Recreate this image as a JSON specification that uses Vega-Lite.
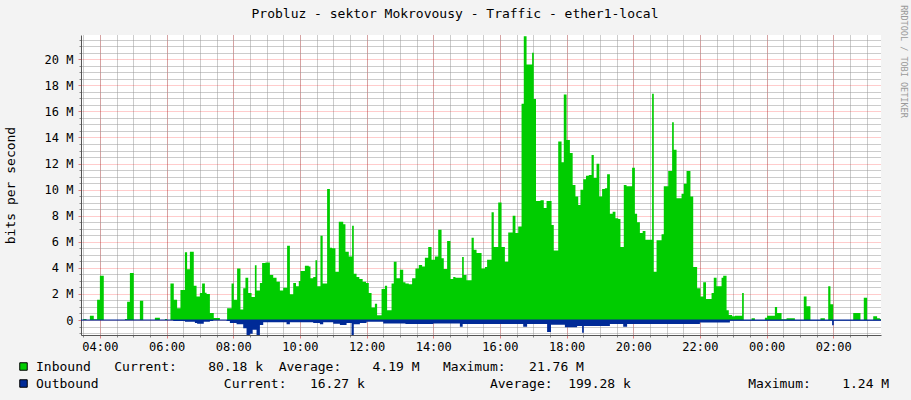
{
  "$schema": "https://vega.github.io/schema/vega-lite/v6.json",
  "width": 800,
  "height": 300,
  "autosize": "none",
  "padding": {"left": 81, "top": 35, "right": 30, "bottom": 65},
  "background": "#F3F3F3",
  "config": {
    "font": "DejaVu Sans Mono",
    "view": {"fill": "#FFFFFF", "stroke": null},
    "axis": {"labelFont": "DejaVu Sans Mono", "titleFont": "DejaVu Sans Mono", "labelColor": "#000000", "titleColor": "#000000", "titleFontWeight": "normal"}
  },
  "title": {
    "text": "Probluz - sektor Mokrovousy - Traffic - ether1-local",
    "font": "DejaVu Sans Mono",
    "fontSize": 13,
    "fontWeight": "normal",
    "color": "#000000",
    "anchor": "middle",
    "dx": -26,
    "dy": 16,
    "offset": 0
  },
  "datasets": {
    "inbound": [
      {"t": "2024-01-01T03:20", "mbps": 0},
      {"t": "2024-01-01T03:30", "mbps": 0.08},
      {"t": "2024-01-01T03:36", "mbps": 0},
      {"t": "2024-01-01T03:42", "mbps": 0.33},
      {"t": "2024-01-01T03:49", "mbps": 0.05},
      {"t": "2024-01-01T03:55", "mbps": 1.56},
      {"t": "2024-01-01T04:00", "mbps": 3.4},
      {"t": "2024-01-01T04:07", "mbps": 0},
      {"t": "2024-01-01T04:45", "mbps": 0.08},
      {"t": "2024-01-01T04:49", "mbps": 1.4},
      {"t": "2024-01-01T04:54", "mbps": 3.6},
      {"t": "2024-01-01T05:01", "mbps": 0.02},
      {"t": "2024-01-01T05:12", "mbps": 1.48},
      {"t": "2024-01-01T05:18", "mbps": 0},
      {"t": "2024-01-01T05:39", "mbps": 0.18},
      {"t": "2024-01-01T05:48", "mbps": 0},
      {"t": "2024-01-01T05:57", "mbps": 0.08},
      {"t": "2024-01-01T06:01", "mbps": 0},
      {"t": "2024-01-01T06:07", "mbps": 2.8},
      {"t": "2024-01-01T06:13", "mbps": 1.56},
      {"t": "2024-01-01T06:19", "mbps": 0.9},
      {"t": "2024-01-01T06:25", "mbps": 2.3},
      {"t": "2024-01-01T06:33", "mbps": 5.2},
      {"t": "2024-01-01T06:37", "mbps": 3.9},
      {"t": "2024-01-01T06:42", "mbps": 5.24},
      {"t": "2024-01-01T06:49", "mbps": 2.63},
      {"t": "2024-01-01T06:54", "mbps": 1.8},
      {"t": "2024-01-01T07:00", "mbps": 2.07},
      {"t": "2024-01-01T07:04", "mbps": 2.8},
      {"t": "2024-01-01T07:09", "mbps": 2.1},
      {"t": "2024-01-01T07:12", "mbps": 2.0},
      {"t": "2024-01-01T07:18", "mbps": 0.54},
      {"t": "2024-01-01T07:25", "mbps": 0.15},
      {"t": "2024-01-01T07:36", "mbps": 0},
      {"t": "2024-01-01T07:49", "mbps": 0.9},
      {"t": "2024-01-01T07:57", "mbps": 2.8},
      {"t": "2024-01-01T08:01", "mbps": 1.56},
      {"t": "2024-01-01T08:07", "mbps": 3.96},
      {"t": "2024-01-01T08:13", "mbps": 0.8},
      {"t": "2024-01-01T08:18", "mbps": 2.43},
      {"t": "2024-01-01T08:22", "mbps": 3.25},
      {"t": "2024-01-01T08:27", "mbps": 2.07},
      {"t": "2024-01-01T08:33", "mbps": 1.76},
      {"t": "2024-01-01T08:39", "mbps": 4.2},
      {"t": "2024-01-01T08:42", "mbps": 2.27},
      {"t": "2024-01-01T08:48", "mbps": 2.84},
      {"t": "2024-01-01T08:52", "mbps": 4.37},
      {"t": "2024-01-01T08:58", "mbps": 4.42},
      {"t": "2024-01-01T09:06", "mbps": 3.45},
      {"t": "2024-01-01T09:12", "mbps": 3.25},
      {"t": "2024-01-01T09:18", "mbps": 2.94},
      {"t": "2024-01-01T09:24", "mbps": 2.27},
      {"t": "2024-01-01T09:30", "mbps": 2.48},
      {"t": "2024-01-01T09:37", "mbps": 5.7},
      {"t": "2024-01-01T09:42", "mbps": 1.97},
      {"t": "2024-01-01T09:48", "mbps": 2.84},
      {"t": "2024-01-01T09:53", "mbps": 2.58},
      {"t": "2024-01-01T09:58", "mbps": 3.0},
      {"t": "2024-01-01T10:01", "mbps": 3.76},
      {"t": "2024-01-01T10:09", "mbps": 4.17},
      {"t": "2024-01-01T10:16", "mbps": 4.1},
      {"t": "2024-01-01T10:19", "mbps": 3.2},
      {"t": "2024-01-01T10:24", "mbps": 3.3},
      {"t": "2024-01-01T10:28", "mbps": 4.58},
      {"t": "2024-01-01T10:31", "mbps": 2.58},
      {"t": "2024-01-01T10:37", "mbps": 6.47},
      {"t": "2024-01-01T10:41", "mbps": 2.8},
      {"t": "2024-01-01T10:49", "mbps": 10.05},
      {"t": "2024-01-01T10:54", "mbps": 5.55},
      {"t": "2024-01-01T10:58", "mbps": 5.5},
      {"t": "2024-01-01T11:04", "mbps": 3.7},
      {"t": "2024-01-01T11:10", "mbps": 7.54},
      {"t": "2024-01-01T11:18", "mbps": 7.34},
      {"t": "2024-01-01T11:22", "mbps": 5.24},
      {"t": "2024-01-01T11:28", "mbps": 4.88},
      {"t": "2024-01-01T11:34", "mbps": 7.23},
      {"t": "2024-01-01T11:37", "mbps": 3.55},
      {"t": "2024-01-01T11:42", "mbps": 3.3},
      {"t": "2024-01-01T11:47", "mbps": 3.14},
      {"t": "2024-01-01T11:53", "mbps": 2.94},
      {"t": "2024-01-01T11:59", "mbps": 2.84},
      {"t": "2024-01-01T12:04", "mbps": 2.07},
      {"t": "2024-01-01T12:09", "mbps": 0.95},
      {"t": "2024-01-01T12:15", "mbps": 1.25},
      {"t": "2024-01-01T12:19", "mbps": 0.36},
      {"t": "2024-01-01T12:27", "mbps": 2.38},
      {"t": "2024-01-01T12:33", "mbps": 2.63},
      {"t": "2024-01-01T12:37", "mbps": 0.74},
      {"t": "2024-01-01T12:45", "mbps": 2.8},
      {"t": "2024-01-01T12:49", "mbps": 4.47},
      {"t": "2024-01-01T12:54", "mbps": 3.2},
      {"t": "2024-01-01T13:00", "mbps": 3.86},
      {"t": "2024-01-01T13:06", "mbps": 2.9},
      {"t": "2024-01-01T13:10", "mbps": 2.8},
      {"t": "2024-01-01T13:16", "mbps": 2.74},
      {"t": "2024-01-01T13:22", "mbps": 3.2},
      {"t": "2024-01-01T13:28", "mbps": 3.96},
      {"t": "2024-01-01T13:34", "mbps": 4.22},
      {"t": "2024-01-01T13:40", "mbps": 4.1},
      {"t": "2024-01-01T13:45", "mbps": 4.78},
      {"t": "2024-01-01T13:51", "mbps": 5.6},
      {"t": "2024-01-01T13:57", "mbps": 4.63},
      {"t": "2024-01-01T14:03", "mbps": 4.88},
      {"t": "2024-01-01T14:09", "mbps": 6.93},
      {"t": "2024-01-01T14:15", "mbps": 4.73},
      {"t": "2024-01-01T14:19", "mbps": 3.91},
      {"t": "2024-01-01T14:25", "mbps": 6.06},
      {"t": "2024-01-01T14:31", "mbps": 3.14},
      {"t": "2024-01-01T14:36", "mbps": 3.3},
      {"t": "2024-01-01T14:40", "mbps": 3.25},
      {"t": "2024-01-01T14:52", "mbps": 4.83},
      {"t": "2024-01-01T14:55", "mbps": 3.45},
      {"t": "2024-01-01T15:00", "mbps": 3.04},
      {"t": "2024-01-01T15:09", "mbps": 6.31},
      {"t": "2024-01-01T15:13", "mbps": 5.39},
      {"t": "2024-01-01T15:18", "mbps": 5.14},
      {"t": "2024-01-01T15:27", "mbps": 3.96},
      {"t": "2024-01-01T15:33", "mbps": 4.06},
      {"t": "2024-01-01T15:37", "mbps": 4.63},
      {"t": "2024-01-01T15:45", "mbps": 8.26},
      {"t": "2024-01-01T15:49", "mbps": 5.6},
      {"t": "2024-01-01T15:57", "mbps": 9.02},
      {"t": "2024-01-01T16:03", "mbps": 5.6},
      {"t": "2024-01-01T16:09", "mbps": 4.47},
      {"t": "2024-01-01T16:15", "mbps": 6.72},
      {"t": "2024-01-01T16:23", "mbps": 8.0},
      {"t": "2024-01-01T16:28", "mbps": 6.67},
      {"t": "2024-01-01T16:33", "mbps": 7.18},
      {"t": "2024-01-01T16:39", "mbps": 16.59},
      {"t": "2024-01-01T16:43", "mbps": 21.76},
      {"t": "2024-01-01T16:48", "mbps": 19.6},
      {"t": "2024-01-01T16:58", "mbps": 20.5},
      {"t": "2024-01-01T17:01", "mbps": 16.95},
      {"t": "2024-01-01T17:05", "mbps": 9.13},
      {"t": "2024-01-01T17:13", "mbps": 9.18},
      {"t": "2024-01-01T17:19", "mbps": 8.6},
      {"t": "2024-01-01T17:24", "mbps": 9.13},
      {"t": "2024-01-01T17:33", "mbps": 7.29},
      {"t": "2024-01-01T17:37", "mbps": 5.34},
      {"t": "2024-01-01T17:45", "mbps": 13.7},
      {"t": "2024-01-01T17:51", "mbps": 12.1},
      {"t": "2024-01-01T17:55", "mbps": 17.3},
      {"t": "2024-01-01T18:00", "mbps": 13.8},
      {"t": "2024-01-01T18:06", "mbps": 12.8},
      {"t": "2024-01-01T18:11", "mbps": 10.35},
      {"t": "2024-01-01T18:16", "mbps": 9.48},
      {"t": "2024-01-01T18:21", "mbps": 8.82},
      {"t": "2024-01-01T18:25", "mbps": 10.0},
      {"t": "2024-01-01T18:30", "mbps": 10.8},
      {"t": "2024-01-01T18:35", "mbps": 11.07},
      {"t": "2024-01-01T18:40", "mbps": 11.12},
      {"t": "2024-01-01T18:45", "mbps": 12.65},
      {"t": "2024-01-01T18:49", "mbps": 10.9},
      {"t": "2024-01-01T18:54", "mbps": 11.99},
      {"t": "2024-01-01T18:59", "mbps": 9.48},
      {"t": "2024-01-01T19:04", "mbps": 10.05},
      {"t": "2024-01-01T19:09", "mbps": 10.1},
      {"t": "2024-01-01T19:13", "mbps": 11.17},
      {"t": "2024-01-01T19:18", "mbps": 8.15},
      {"t": "2024-01-01T19:23", "mbps": 8.3},
      {"t": "2024-01-01T19:28", "mbps": 7.8},
      {"t": "2024-01-01T19:33", "mbps": 7.75},
      {"t": "2024-01-01T19:37", "mbps": 5.6},
      {"t": "2024-01-01T19:43", "mbps": 10.35},
      {"t": "2024-01-01T19:48", "mbps": 10.25},
      {"t": "2024-01-01T19:58", "mbps": 11.68},
      {"t": "2024-01-01T20:03", "mbps": 8.15},
      {"t": "2024-01-01T20:07", "mbps": 7.49},
      {"t": "2024-01-01T20:12", "mbps": 6.67},
      {"t": "2024-01-01T20:17", "mbps": 6.83},
      {"t": "2024-01-01T20:22", "mbps": 6.16},
      {"t": "2024-01-01T20:34", "mbps": 17.36},
      {"t": "2024-01-01T20:37", "mbps": 3.7},
      {"t": "2024-01-01T20:42", "mbps": 6.11},
      {"t": "2024-01-01T20:51", "mbps": 6.57},
      {"t": "2024-01-01T20:55", "mbps": 10.25},
      {"t": "2024-01-01T21:03", "mbps": 11.43},
      {"t": "2024-01-01T21:10", "mbps": 15.16},
      {"t": "2024-01-01T21:13", "mbps": 13.06},
      {"t": "2024-01-01T21:18", "mbps": 9.33},
      {"t": "2024-01-01T21:27", "mbps": 9.69},
      {"t": "2024-01-01T21:31", "mbps": 10.45},
      {"t": "2024-01-01T21:36", "mbps": 11.43},
      {"t": "2024-01-01T21:43", "mbps": 9.48},
      {"t": "2024-01-01T21:48", "mbps": 4.06},
      {"t": "2024-01-01T21:55", "mbps": 2.43},
      {"t": "2024-01-01T22:01", "mbps": 1.81},
      {"t": "2024-01-01T22:06", "mbps": 2.89},
      {"t": "2024-01-01T22:11", "mbps": 1.61},
      {"t": "2024-01-01T22:21", "mbps": 2.07},
      {"t": "2024-01-01T22:25", "mbps": 3.25},
      {"t": "2024-01-01T22:30", "mbps": 2.58},
      {"t": "2024-01-01T22:39", "mbps": 3.25},
      {"t": "2024-01-01T22:42", "mbps": 3.4},
      {"t": "2024-01-01T22:48", "mbps": 0.74},
      {"t": "2024-01-01T22:52", "mbps": 0.38},
      {"t": "2024-01-01T22:58", "mbps": 0.28},
      {"t": "2024-01-01T23:03", "mbps": 0.33},
      {"t": "2024-01-01T23:16", "mbps": 2.07},
      {"t": "2024-01-01T23:19", "mbps": 0},
      {"t": "2024-01-01T23:33", "mbps": 0.13},
      {"t": "2024-01-01T23:39", "mbps": 0},
      {"t": "2024-01-01T23:57", "mbps": 0.18},
      {"t": "2024-01-02T00:01", "mbps": 0.33},
      {"t": "2024-01-02T00:15", "mbps": 1.0},
      {"t": "2024-01-02T00:19", "mbps": 0.54},
      {"t": "2024-01-02T00:27", "mbps": 0.05},
      {"t": "2024-01-02T00:36", "mbps": 0.13},
      {"t": "2024-01-02T00:51", "mbps": 0},
      {"t": "2024-01-02T01:07", "mbps": 1.81},
      {"t": "2024-01-02T01:12", "mbps": 1.05},
      {"t": "2024-01-02T01:19", "mbps": 0},
      {"t": "2024-01-02T01:37", "mbps": 0.13},
      {"t": "2024-01-02T01:45", "mbps": 0},
      {"t": "2024-01-02T01:51", "mbps": 2.58},
      {"t": "2024-01-02T01:55", "mbps": 1.2},
      {"t": "2024-01-02T02:00", "mbps": 0},
      {"t": "2024-01-02T02:36", "mbps": 0.54},
      {"t": "2024-01-02T02:49", "mbps": 0},
      {"t": "2024-01-02T02:55", "mbps": 1.71},
      {"t": "2024-01-02T03:01", "mbps": 0},
      {"t": "2024-01-02T03:12", "mbps": 0.28},
      {"t": "2024-01-02T03:19", "mbps": 0.13},
      {"t": "2024-01-02T03:24", "mbps": 0.08},
      {"t": "2024-01-02T03:30", "mbps": 0.08}
    ],
    "outbound": [
      {"t": "2024-01-01T03:20", "mbps": -0.02},
      {"t": "2024-01-01T06:12", "mbps": -0.08},
      {"t": "2024-01-01T06:33", "mbps": -0.13},
      {"t": "2024-01-01T06:51", "mbps": -0.23},
      {"t": "2024-01-01T06:55", "mbps": -0.28},
      {"t": "2024-01-01T07:07", "mbps": -0.13},
      {"t": "2024-01-01T07:18", "mbps": -0.08},
      {"t": "2024-01-01T07:24", "mbps": -0.02},
      {"t": "2024-01-01T07:48", "mbps": -0.08},
      {"t": "2024-01-01T07:54", "mbps": -0.23},
      {"t": "2024-01-01T08:06", "mbps": -0.33},
      {"t": "2024-01-01T08:18", "mbps": -0.64},
      {"t": "2024-01-01T08:24", "mbps": -1.2},
      {"t": "2024-01-01T08:30", "mbps": -1.05},
      {"t": "2024-01-01T08:35", "mbps": -0.74},
      {"t": "2024-01-01T08:42", "mbps": -1.2},
      {"t": "2024-01-01T08:48", "mbps": -0.38},
      {"t": "2024-01-01T08:54", "mbps": -0.18},
      {"t": "2024-01-01T09:36", "mbps": -0.33},
      {"t": "2024-01-01T09:42", "mbps": -0.18},
      {"t": "2024-01-01T10:24", "mbps": -0.23},
      {"t": "2024-01-01T10:36", "mbps": -0.33},
      {"t": "2024-01-01T10:42", "mbps": -0.18},
      {"t": "2024-01-01T11:00", "mbps": -0.28},
      {"t": "2024-01-01T11:12", "mbps": -0.38},
      {"t": "2024-01-01T11:24", "mbps": -0.23},
      {"t": "2024-01-01T11:33", "mbps": -1.15},
      {"t": "2024-01-01T11:37", "mbps": -0.33},
      {"t": "2024-01-01T11:48", "mbps": -0.23},
      {"t": "2024-01-01T12:00", "mbps": -0.13},
      {"t": "2024-01-01T12:30", "mbps": -0.26},
      {"t": "2024-01-01T13:10", "mbps": -0.3},
      {"t": "2024-01-01T14:00", "mbps": -0.26},
      {"t": "2024-01-01T14:48", "mbps": -0.51},
      {"t": "2024-01-01T14:53", "mbps": -0.3},
      {"t": "2024-01-01T16:42", "mbps": -0.51},
      {"t": "2024-01-01T16:49", "mbps": -0.3},
      {"t": "2024-01-01T17:25", "mbps": -0.92},
      {"t": "2024-01-01T17:32", "mbps": -0.36},
      {"t": "2024-01-01T17:57", "mbps": -0.56},
      {"t": "2024-01-01T18:19", "mbps": -0.46},
      {"t": "2024-01-01T18:28", "mbps": -0.97},
      {"t": "2024-01-01T18:31", "mbps": -0.46},
      {"t": "2024-01-01T19:18", "mbps": -0.3},
      {"t": "2024-01-01T19:42", "mbps": -0.51},
      {"t": "2024-01-01T19:49", "mbps": -0.3},
      {"t": "2024-01-01T21:00", "mbps": -0.3},
      {"t": "2024-01-01T22:00", "mbps": -0.2},
      {"t": "2024-01-01T22:54", "mbps": -0.05},
      {"t": "2024-01-02T01:58", "mbps": -0.4},
      {"t": "2024-01-02T02:01", "mbps": -0.05},
      {"t": "2024-01-02T03:30", "mbps": -0.05}
    ]
  },
  "layer": [
    {
      "data": {"name": "inbound", "format": {"parse": {"t": "utc:'%Y-%m-%dT%H:%M'"}}},
      "mark": {"type": "area", "interpolate": "step-after", "clip": true},
      "encoding": {
        "x": {
          "field": "t", "type": "temporal",
          "scale": {"type": "utc", "domain": [1704079560000, 1704165960000]},
          "axis": {"orient": "bottom", "title": null, "labels": false, "domain": false, "values": [1704079800000, 1704081600000, 1704083400000, 1704085200000, 1704087000000, 1704088800000, 1704090600000, 1704092400000, 1704094200000, 1704096000000, 1704097800000, 1704099600000, 1704101400000, 1704103200000, 1704105000000, 1704106800000, 1704108600000, 1704110400000, 1704112200000, 1704114000000, 1704115800000, 1704117600000, 1704119400000, 1704121200000, 1704123000000, 1704124800000, 1704126600000, 1704128400000, 1704130200000, 1704132000000, 1704133800000, 1704135600000, 1704137400000, 1704139200000, 1704141000000, 1704142800000, 1704144600000, 1704146400000, 1704148200000, 1704150000000, 1704151800000, 1704153600000, 1704155400000, 1704157200000, 1704159000000, 1704160800000, 1704162600000, 1704164400000], "ticks": true, "tickSize": 2, "tickColor": "#888888", "grid": true, "gridColor": "#999999", "gridDash": [1, 1], "gridOpacity": 1}
        },
        "y": {
          "field": "mbps", "type": "quantitative",
          "scale": {"domain": [-1.15, 21.86], "nice": false, "zero": false},
          "axis": {"orient": "left", "title": null, "labels": false, "domain": false, "values": [-1, -0.5, 0.5, 1, 1.5, 2.5, 3, 3.5, 4.5, 5, 5.5, 6.5, 7, 7.5, 8.5, 9, 9.5, 10.5, 11, 11.5, 12.5, 13, 13.5, 14.5, 15, 15.5, 16.5, 17, 17.5, 18.5, 19, 19.5, 20.5, 21, 21.5], "ticks": true, "tickSize": 2, "tickColor": "#888888", "grid": true, "gridColor": "#999999", "gridDash": [1, 1], "gridOpacity": 1}
        },
        "color": {
          "datum": "Inbound",
          "scale": {"domain": ["Inbound", "Outbound"], "range": ["#00CC00", "#002A97"]},
          "legend": {
            "orient": "none", "legendX": -64, "legendY": 325, "direction": "vertical", "title": null,
            "symbolType": "square", "symbolSize": 56, "symbolStrokeColor": "#000000", "symbolStrokeWidth": 1, "symbolOpacity": 1,
            "labelFont": "DejaVu Sans Mono", "labelFontSize": 13, "labelColor": "#000000", "labelOffset": 6, "labelLimit": 2000, "rowPadding": 3, "padding": 0,
            "labelExpr": "datum.label == 'Inbound' ? 'Inbound\u00a0\u00a0\u00a0Current:\u00a0\u00a0\u00a0\u00a080.18\u00a0k\u00a0\u00a0Average:\u00a0\u00a0\u00a0\u00a04.19\u00a0M\u00a0\u00a0\u00a0Maximum:\u00a0\u00a0\u00a021.76\u00a0M' : 'Outbound\u00a0\u00a0\u00a0\u00a0\u00a0\u00a0\u00a0\u00a0\u00a0\u00a0\u00a0\u00a0\u00a0\u00a0\u00a0\u00a0Current:\u00a0\u00a0\u00a016.27\u00a0k\u00a0\u00a0\u00a0\u00a0\u00a0\u00a0\u00a0\u00a0\u00a0\u00a0\u00a0\u00a0\u00a0\u00a0\u00a0\u00a0Average:\u00a0\u00a0199.28\u00a0k\u00a0\u00a0\u00a0\u00a0\u00a0\u00a0\u00a0\u00a0\u00a0\u00a0\u00a0\u00a0\u00a0\u00a0\u00a0Maximum:\u00a0\u00a0\u00a0\u00a01.24\u00a0M'"
          }
        }
      }
    },
    {
      "data": {"name": "outbound", "format": {"parse": {"t": "utc:'%Y-%m-%dT%H:%M'"}}},
      "mark": {"type": "area", "interpolate": "step-after", "clip": true},
      "encoding": {
        "x": {
          "field": "t", "type": "temporal",
          "axis": {"orient": "bottom", "title": null, "labelExpr": "utcFormat(datum.value, '%H:%M')", "values": [1704081600000, 1704088800000, 1704096000000, 1704103200000, 1704110400000, 1704117600000, 1704124800000, 1704132000000, 1704139200000, 1704146400000, 1704153600000, 1704160800000], "labelFontSize": 12, "labelPadding": 3, "labelFlush": false, "labelOverlap": false, "domain": true, "domainColor": "#555555", "ticks": true, "tickSize": 3, "tickColor": "#E08080", "grid": true, "gridColor": "#FF0000", "gridOpacity": 0.4, "gridDash": [1, 1]}
        },
        "y": {
          "field": "mbps", "type": "quantitative",
          "axis": {"orient": "left", "values": [0, 2, 4, 6, 8, 10, 12, 14, 16, 18, 20], "labelExpr": "datum.value == 0 ? '0' : datum.value + ' M'", "labelFontSize": 12, "labelPadding": 5, "domain": true, "domainColor": "#555555", "ticks": true, "tickSize": 3, "tickColor": "#E08080", "grid": true, "gridColor": "#FF0000", "gridOpacity": 0.4, "gridDash": [1, 1],
            "title": "bits per second", "titleFontSize": 13, "titleAngle": -90, "titleX": -71, "titleY": 150, "titleAlign": "center", "titleBaseline": "middle"}
        },
        "color": {"datum": "Outbound"}
      }
    },
    {
      "data": {"values": [{"level": 0}]},
      "mark": {"type": "rule", "color": "#002A97", "strokeWidth": 1},
      "encoding": {
        "y": {
          "field": "level", "type": "quantitative",
          "axis": {"orient": "right", "title": "RRDTOOL / TOBI OETIKER", "labels": false, "ticks": false, "domain": false, "grid": false, "titleAngle": 90, "titleX": 22, "titleY": 26, "titleFontSize": 8.5, "titleColor": "#999999", "titleAlign": "center", "titleBaseline": "middle"}
        }
      }
    }
  ],
  "resolve": {"axis": {"x": "independent", "y": "independent"}}
}
